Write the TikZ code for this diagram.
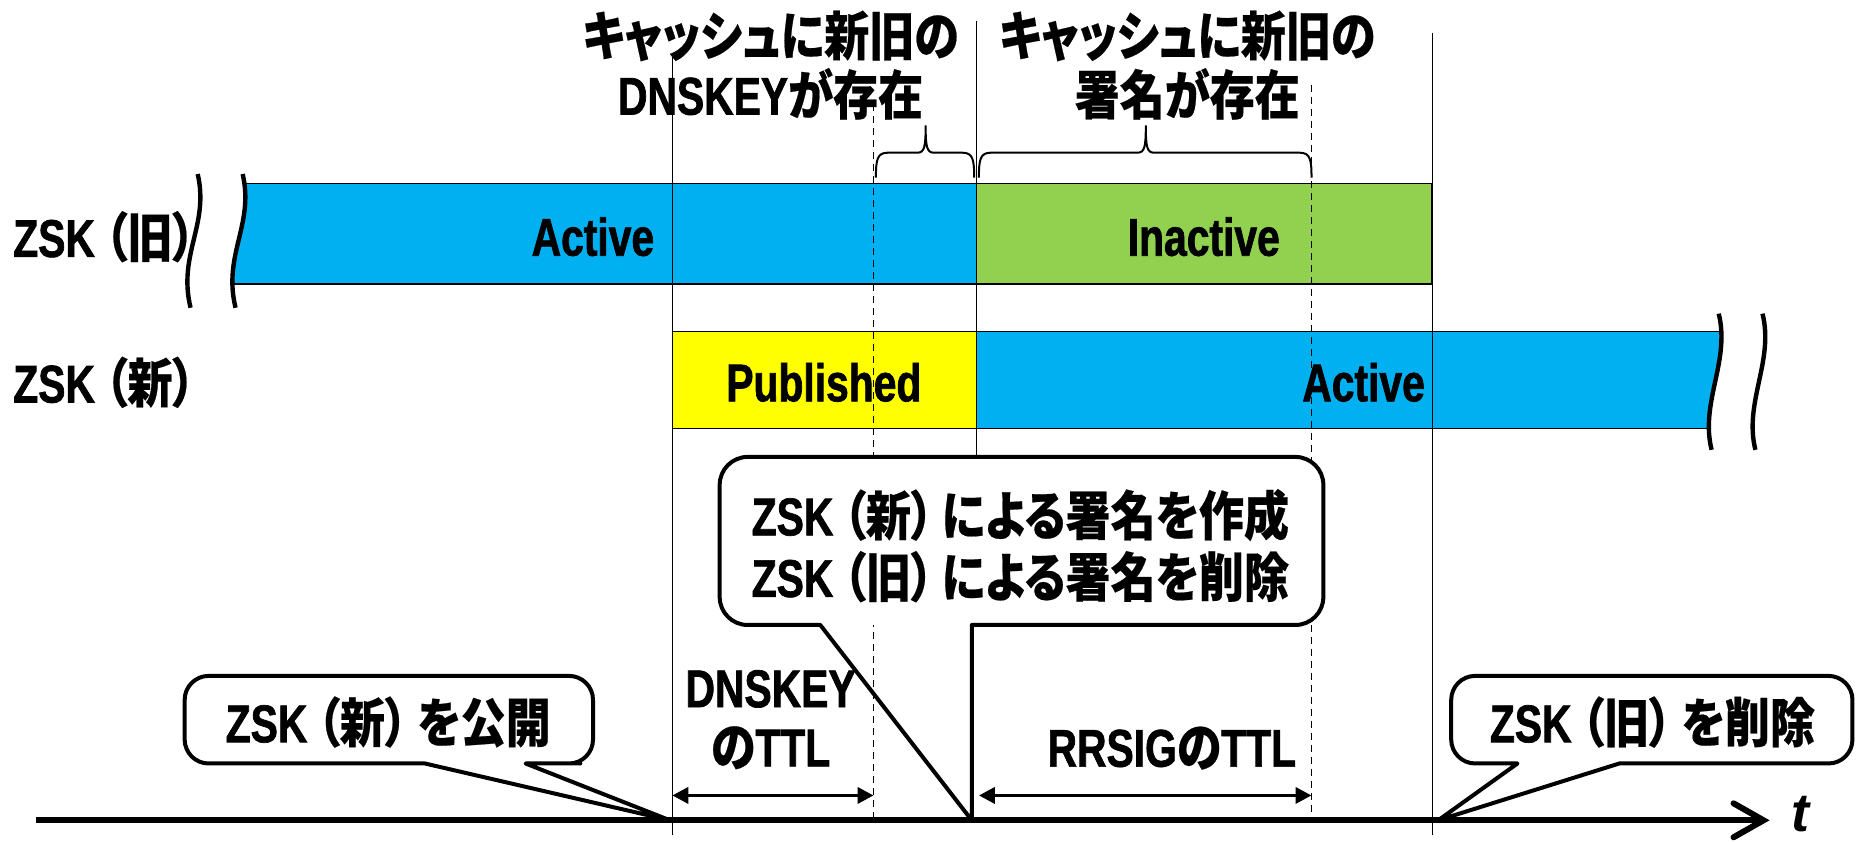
\documentclass[tikz,border=0pt]{standalone}
\usepackage{fontspec}
\newfontfamily\jpf{Noto Sans CJK JP}[FakeStretch=0.85, RawFeature=+palt, BoldFeatures={FakeBold=0.4}]
\newfontfamily\latf{Liberation Sans Bold}[FakeStretch=0.77, FakeBold=1.3, BoldFont={Liberation Sans Bold}, BoldFeatures={FakeStretch=0.77, FakeBold=1.3}]
\newfontfamily\tfont{Liberation Sans}
\newcommand\LT[1]{{\latf #1}}
\usetikzlibrary{arrows.meta}
\definecolor{cyanB}{RGB}{0,176,240}
\definecolor{greenB}{RGB}{146,208,80}
\definecolor{yellowB}{RGB}{255,255,0}
\begin{document}
\begin{tikzpicture}[x=0.5918pt, y=-0.5918pt,
  txt/.style={font=\jpf\bfseries\fontsize{26.5}{29.6}\selectfont, inner sep=0pt, align=center},
  bar/.style={draw=black, line width=0.8pt},
  vline/.style={line width=0.75pt},
  dline/.style={line width=0.75pt, dash pattern=on 3.5pt off 2.5pt},
  wave/.style={line width=2.2pt},
  bracepath/.style={line width=1pt},
  callout/.style={draw=black, line width=2pt, line join=round},
  ttl/.style={line width=1.8pt, {Triangle[length=8pt,width=8pt]}-{Triangle[length=8pt,width=8pt]}},
]
\useasboundingbox (0,0) rectangle (1568,711);

% coordinates
\coordinate (pubTop) at (568,48);  \coordinate (pubBot) at (568,705);
\coordinate (actTop) at (825,18);  \coordinate (actBot) at (825,386);
\coordinate (delTop) at (1210,28); \coordinate (delBot) at (1210,705);
\coordinate (d1Top) at (738,88);   \coordinate (d1Bot) at (738,693);
\coordinate (d2Top) at (1108,72);  \coordinate (d2Bot) at (1108,693);
\coordinate (axL) at (30,693);     \coordinate (axR) at (1495,693);

% old ZSK active bar
\begin{scope}
\clip (205,147) .. controls (215,190) and (188,215) .. (199,260) -- (830,260) -- (830,147) -- cycle;
\fill[cyanB] (150,155) rectangle (825,240);
\draw[bar] (150,155) -- (825,155) -- (825,240) -- (150,240);
\end{scope}
\draw[wave] (167,147) .. controls (177,190) and (150,215) .. (161,260);
\draw[wave] (205,147) .. controls (215,190) and (188,215) .. (199,260);
% inactive
\draw[bar, fill=greenB] (825,155) rectangle (1210,240);
% published
\draw[bar, fill=yellowB] (568,280) rectangle (825,362);
% new active
\begin{scope}
\clip (1452,265) .. controls (1462,305) and (1436,340) .. (1446,380) -- (820,380) -- (820,265) -- cycle;
\fill[cyanB] (825,280) rectangle (1470,362);
\draw[bar] (1470,280) -- (825,280) -- (825,362) -- (1470,362);
\end{scope}
\draw[wave] (1452,265) .. controls (1462,305) and (1436,340) .. (1446,380);
\draw[wave] (1489,265) .. controls (1499,305) and (1473,340) .. (1483,380);

% vertical lines
\draw[vline] (pubTop) -- (pubBot);
\draw[vline] (actTop) -- (actBot);
\draw[vline] (delTop) -- (delBot);
\draw[dline] (d1Top) -- (d1Bot);
\draw[dline] (d2Top) -- (d2Bot);

% braces
\draw[bracepath] (740,150) .. controls (740,135) and (741,129) .. (750,129) -- (775,129)
  .. controls (781,129) and (782,124) .. (782,106) .. controls (782,124) and (783,129) .. (789,129)
  -- (813,129) .. controls (822,129) and (823,135) .. (823,150);
\draw[bracepath] (827,150) .. controls (827,135) and (828,129) .. (837,129) -- (961,129)
  .. controls (967,129) and (968,124) .. (968,106) .. controls (968,124) and (969,129) .. (975,129)
  -- (1098,129) .. controls (1107,129) and (1108,135) .. (1108,150);

% texts
\node[txt] (oldLab) at (88,200) {\LT{ZSK}\hspace{5pt}（旧）};
\node[txt] (newLab) at (88,323) {\LT{ZSK}\hspace{5pt}（新）};
\node[txt, anchor=east] (oldAct) at (553,200) {\LT{Active}};
\node[txt] (inact) at (1017,200) {\LT{Inactive}};
\node[txt] (pub) at (696,323) {\LT{Published}};
\node[txt] (newAct) at (1152,323) {\LT{Active}};
\node[txt] (cap1) at (651,55) {キャッシュに新旧の\\\LT{DNSKEY}が存在};
\node[txt] (cap2) at (1003,55) {キャッシュに新旧の\\署名が存在};
\node[txt] (ttl1lab) at (651,608) {\LT{DNSKEY}\\の\LT{TTL}};
\node[txt] (ttl2lab) at (990,632) {\LT{RRSIG}の\LT{TTL}};

% callout 1
\fill[white, rounded corners=12pt] (156,571) rectangle (501,645);
\draw[callout] (328,571) [rounded corners=12pt] -- (501,571) -- (501,645) -- (470,645) [sharp corners]
  -- (444,645) -- (566,693) -- (359,645) -- (330,645) [rounded corners=12pt] -- (156,645) -- (156,571) -- cycle;
\node[txt] (c1) at (328,610) {\LT{ZSK}\hspace{5pt}（新）\hspace{5pt}を公開};
% callout 2
\fill[white, rounded corners=14pt] (608,386) rectangle (1118,528);
\draw[callout] (862,386) [rounded corners=14pt] -- (1118,386) -- (1118,528) -- (1000,528) [sharp corners]
  -- (821,528) -- (821,693) -- (693,528) -- (650,528) [rounded corners=14pt] -- (608,528) -- (608,386) -- cycle;
\node[txt, font=\jpf\bfseries\fontsize{26.5}{30.8}\selectfont] (c2) at (862,461)
  {\LT{ZSK}\hspace{5pt}（新）\hspace{4pt}による署名を作成\\\LT{ZSK}\hspace{5pt}（旧）\hspace{4pt}による署名を削除};
% callout 3
\fill[white, rounded corners=12pt] (1226,571) rectangle (1565,645);
\draw[callout] (1396,571) [rounded corners=12pt] -- (1565,571) -- (1565,645) -- (1400,645) [sharp corners]
  -- (1368,645) -- (1215,693) -- (1282,645) -- (1260,645) [rounded corners=12pt] -- (1226,645) -- (1226,571) -- cycle;
\node[txt] (c3) at (1396,610) {\LT{ZSK}\hspace{5pt}（旧）\hspace{5pt}を削除};

% TTL arrows
\coordinate (t1a) at (568,672); \coordinate (t1b) at (738,672);
\coordinate (t2a) at (827,672); \coordinate (t2b) at (1108,672);
\draw[ttl] (t1a) -- (t1b);
\draw[ttl] (t2a) -- (t2b);

% axis
\draw[line width=3pt, -{Straight Barb[length=15pt,width=17pt,line cap=round]}] (axL) -- (axR);
\node[font=\tfont\bfseries\itshape\fontsize{27}{27}\selectfont, inner sep=0pt] (tlab) at (1521,688) {t};
\end{tikzpicture}
\end{document}
